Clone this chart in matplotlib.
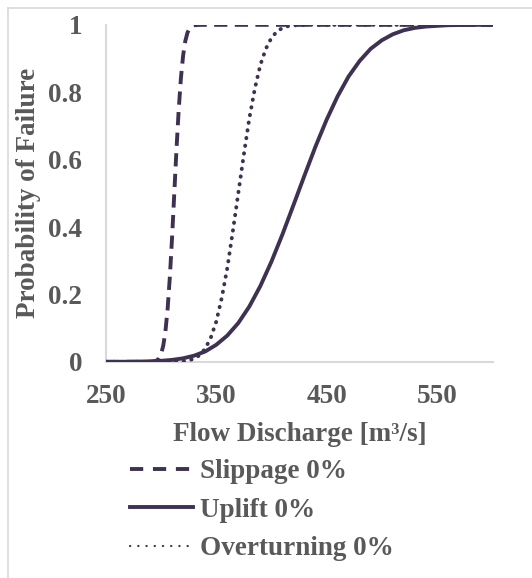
import matplotlib
matplotlib.use('Agg')
import matplotlib.pyplot as plt
from matplotlib.lines import Line2D

# values
slip_x = [250, 290, 294, 296, 298, 300, 302, 304, 306, 308, 310, 312, 314, 316, 318, 320,
          322, 324, 326, 328, 330, 334, 340, 600]
slip_y = [0, 0.0001, 0.0013, 0.0038, 0.0099, 0.0228, 0.0478, 0.0912, 0.1587, 0.2525, 0.3694,
          0.5, 0.6306, 0.7475, 0.8413, 0.9088, 0.9522, 0.9772, 0.9901, 0.9962, 0.9987, 0.9999, 1, 1]

uplift_x = [250, 260, 270, 280, 290, 300, 310, 320, 330, 340, 350, 360, 370, 380, 390, 400,
            410, 420, 430, 440, 450, 460, 470, 480, 490, 500, 510, 520, 530, 540, 550, 560,
            570, 580, 590, 600]
uplift_y = [0.0001, 0.0001, 0.0003, 0.0007, 0.0014, 0.0029, 0.0057, 0.0104, 0.0183, 0.0307,
            0.0505, 0.0778, 0.1151, 0.164, 0.225, 0.297, 0.378, 0.465, 0.553, 0.639, 0.718,
            0.788, 0.847, 0.893, 0.929, 0.954, 0.972, 0.984, 0.991, 0.995, 0.997, 0.999,
            0.9995, 1, 1, 1]

over_x = [250, 300, 310, 320, 325, 330, 335, 340, 345, 350, 355, 360, 365, 370, 375, 380,
          385, 390, 395, 400, 405, 410, 415, 420, 430, 440, 600]
over_y = [0, 0, 0.0002, 0.0016, 0.004, 0.0093, 0.0197, 0.039, 0.0708, 0.119, 0.1894, 0.2776,
          0.3859, 0.5, 0.6141, 0.7224, 0.8106, 0.881, 0.9292, 0.961, 0.9803, 0.9907, 0.996,
          0.9984, 0.9998, 1, 1]

x_ticks = [250, 350, 450, 550]
y_ticks = [0, 0.2, 0.4, 0.6, 0.8, 1]
y_tick_labels = ['0', '0.2', '0.4', '0.6', '0.8', '1']

line_col = '#3f3151'
txt_col = '#595959'
fs = 19.5
plt.rcParams['font.family'] = ['Liberation Serif', 'DejaVu Serif']
plt.rcParams['font.weight'] = 'bold'

fig = plt.figure(figsize=(5.32, 5.78), dpi=100)
ax = fig.add_axes([0.199, 0.374, 0.728, 0.583])

ax.plot(slip_x, slip_y, color=line_col, lw=2.8, dashes=(3.4, 1.9), label='Slippage 0%')
ax.plot(uplift_x, uplift_y, color=line_col, lw=2.8, label='Uplift 0%')
ax.plot(over_x, over_y, color=line_col, lw=2.8, linestyle=(0, (0.1, 1.9)),
        dash_capstyle='round', label='Overturning 0%')

ax.set_xlim(250, 601)
ax.set_ylim(0, 1)
ax.set_xticks(x_ticks)
ax.set_yticks(y_ticks)
ax.set_yticklabels(y_tick_labels)
ax.tick_params(length=0, labelsize=fs, labelcolor=txt_col)
ax.tick_params(axis='y', pad=17)
ax.tick_params(axis='x', pad=16)
for lab in ax.get_xticklabels() + ax.get_yticklabels():
    lab.set_fontweight('bold')
for s in ['top', 'right']:
    ax.spines[s].set_visible(False)
for s in ['left', 'bottom']:
    ax.spines[s].set_color('#d9d9d9')
    ax.spines[s].set_linewidth(1.5)
    ax.spines[s].set_zorder(0)

ax.set_xlabel('Flow Discharge [m³/s]', fontsize=fs, color=txt_col,
              fontweight='bold', labelpad=9)
ax.set_ylabel('Probability of Failure', fontsize=fs, color=txt_col, fontweight='bold',
              labelpad=5)

handles = [Line2D([], [], color=line_col, lw=2.8, dashes=(3.4, 2.5)),
           Line2D([], [], color=line_col, lw=2.8),
           Line2D([], [], color=line_col, lw=1.6, linestyle=(0, (0.1, 3.6)),
                  dash_capstyle='round')]
leg = fig.legend(handles, ['Slippage 0%', 'Uplift 0%', 'Overturning 0%'],
                 loc='upper left', bbox_to_anchor=(0.224, 0.224), frameon=False,
                 fontsize=fs, handlelength=2.33, handletextpad=0.26, labelspacing=0.5,
                 borderaxespad=0)
for t in leg.get_texts():
    t.set_color(txt_col)
    t.set_fontweight('bold')

# chart area border (top and left edges visible)
fig.add_artist(Line2D([8 / 532, 1], [1 - 8 / 578, 1 - 8 / 578], color='#d9d9d9', lw=1.2,
                      transform=fig.transFigure))
fig.add_artist(Line2D([8 / 532, 8 / 532], [0, 1 - 8 / 578], color='#d9d9d9', lw=1.2,
                      transform=fig.transFigure))

fig.savefig('out.png', dpi=100)
